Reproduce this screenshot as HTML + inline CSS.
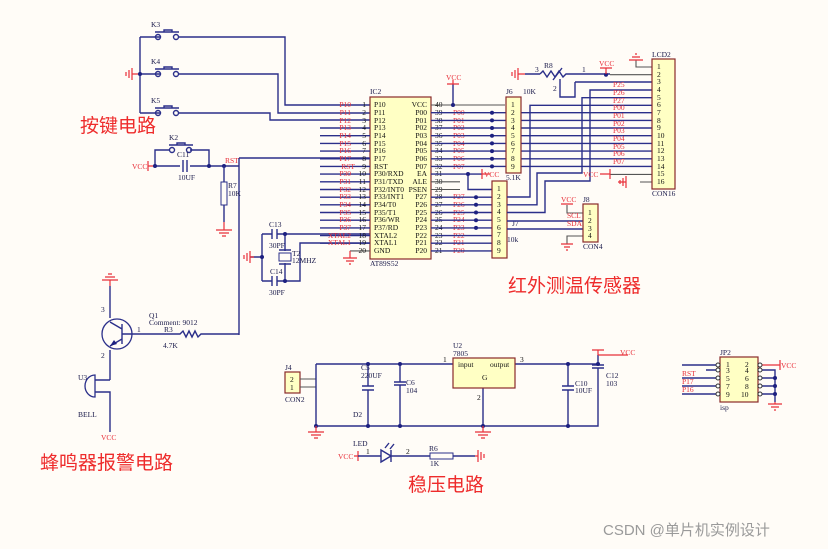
<!DOCTYPE html>
<html><head><meta charset="utf-8"><style>
html,body{margin:0;padding:0;background:#fffcf7;}
svg{display:block}
text{font-family:"Liberation Serif",serif;}
.s{font-size:7.5px;fill:#1a1a4a}
.r{font-size:7.5px;fill:#e8303a}
.k{font-size:7.5px;fill:#111}
.cn{font-family:"Liberation Sans","Noto Sans CJK SC",sans-serif;font-size:19px;fill:#ee2b2b}
.w{stroke:#2b2f8a;stroke-width:1.4;fill:none}
.g{stroke:#555;stroke-width:1.1;fill:none}
.rd{stroke:#e8303a;stroke-width:1.2;fill:none}
.bx{fill:#ffffc4;stroke:#8a2a2a;stroke-width:1.2}
.d{fill:#1d2080}
.wm{font-family:"Liberation Sans","Noto Sans CJK SC",sans-serif;font-size:15px;fill:#9a9a9a}
</style></head><body>
<svg width="828" height="549" viewBox="0 0 828 549" xmlns="http://www.w3.org/2000/svg">
<!-- keys -->
<path class="w" d="M140 37V113M140 37H160M140 74H160M140 113H160"/>
<path class="rd" d="M140 74H132M132 68V80M129 70V78M126 72V76"/>
<circle cx="140" cy="74" r="2" class="d"/>
<g class="w">
<circle cx="158" cy="37" r="2.5"/><circle cx="176" cy="37" r="2.5"/><path d="M155 32H179M164 32V30H172V32"/>
<circle cx="158" cy="74" r="2.5"/><circle cx="176" cy="74" r="2.5"/><path d="M155 69H179M164 69V67H172V69"/>
<circle cx="158" cy="113" r="2.5"/><circle cx="176" cy="113" r="2.5"/><path d="M155 108H179M164 108V106H172V108"/>
<path d="M179 37H285V105H370M179 74H278V113H370M179 113H270V120H370"/>
</g>
<text x="151" y="27" class="s">K3</text><text x="151" y="64" class="s">K4</text><text x="151" y="103" class="s">K5</text>
<text x="80" y="132" class="cn">按键电路</text>
<!-- reset -->
<path class="w" d="M155 166H180M190 166H224M155 166V150H170M190 150H209V166M224 166H239M239 158V335M239 158H370"/>
<g class="w"><circle cx="172" cy="150" r="2.5"/><circle cx="189" cy="150" r="2.5"/><path d="M169 145H193M177 145V143H185V145"/><path d="M183 160V172M187 160V172"/></g>
<text x="169" y="140" class="s">K2</text><text x="177" y="157" class="s">C11</text><text x="178" y="180" class="s">10UF</text>
<path class="rd" d="M148 166H155M148 161V171"/><text x="132" y="169" class="r">VCC</text>
<circle cx="155" cy="166" r="2" class="d"/><circle cx="209" cy="166" r="2" class="d"/><circle cx="224" cy="166" r="2" class="d"/>
<text x="225" y="163" class="r">RST</text>
<path class="w" d="M224 166V182M224 205V222"/><rect x="221" y="182" width="6" height="23" fill="none" stroke="#2b2f8a"/>
<text x="228" y="188" class="s">R7</text><text x="228" y="196" class="s">10K</text>
<path class="rd" d="M224 222V230M216 230H232M219 233H229M222 236H226"/>
<!-- crystal -->
<path class="w" d="M262 234V281M262 234H272M277 234H370M262 281H272M277 281H300V243H370M285 234V251M285 263V281M250 257H262"/>
<path class="w" d="M272 229V239M277 229V239M272 276V286M277 276V286"/>
<rect x="279" y="253" width="12" height="8" fill="none" stroke="#2b2f8a"/><path class="w" d="M279 250H291M279 264H291"/>
<path class="rd" d="M250 257H254M250 251V263M247 253V261M244 255V259"/>
<circle cx="262" cy="257" r="2" class="d"/><circle cx="285" cy="234" r="2" class="d"/><circle cx="285" cy="281" r="2" class="d"/>
<text x="269" y="227" class="s">C13</text><text x="269" y="248" class="s">30PF</text><text x="292" y="256" class="s">T2</text><text x="292" y="263" class="s">12MHZ</text>
<text x="270" y="274" class="s">C14</text><text x="269" y="295" class="s">30PF</text>
<!-- IC2 -->
<rect x="370" y="97" width="61" height="162" class="bx"/>
<text x="370" y="94" class="s">IC2</text><text x="370" y="266" class="s">AT89S52</text>
<g class="w">
<path d="M320 128H370M320 135.7H370M320 143.4H370M320 151.1H370M320 158.8H370M320 166.4H370M320 174.1H370M320 181.8H370M320 189.5H370M320 197.2H370M320 204.8H370M320 212.5H370M320 220.2H370M320 227.9H370M320 235.6H370M320 243.2H370"/>
</g>
<path class="g" d="M350 250.9H370"/>
<path class="rd" d="M350 250.9V258M343 258H357M346 261H354M349 264H351"/>
<g class="r" text-anchor="end">
<text x="351" y="107">P10</text><text x="351" y="115">P11</text><text x="351" y="123">P12</text><text x="351" y="130">P13</text><text x="351" y="138">P14</text><text x="351" y="146">P15</text><text x="351" y="153">P16</text><text x="351" y="161">P17</text><text x="355" y="169">RST</text><text x="351" y="176">P30</text><text x="351" y="184">P31</text><text x="351" y="192">P32</text><text x="351" y="199">P33</text><text x="351" y="207">P34</text><text x="351" y="215">P35</text><text x="351" y="222">P36</text><text x="351" y="230">P37</text><text x="351" y="238">XTAL2</text><text x="351" y="245">XTAL1</text>
</g>
<g class="k" text-anchor="end">
<text x="366" y="107">1</text><text x="366" y="115">2</text><text x="366" y="123">3</text><text x="366" y="130">4</text><text x="366" y="138">5</text><text x="366" y="146">6</text><text x="366" y="153">7</text><text x="366" y="161">8</text><text x="366" y="169">9</text><text x="366" y="176">10</text><text x="366" y="184">11</text><text x="366" y="192">12</text><text x="366" y="199">13</text><text x="366" y="207">14</text><text x="366" y="215">15</text><text x="366" y="222">16</text><text x="366" y="230">17</text><text x="366" y="238">18</text><text x="366" y="245">19</text><text x="366" y="253">20</text>
</g>
<g class="k">
<text x="374" y="107">P10</text><text x="374" y="115">P11</text><text x="374" y="123">P12</text><text x="374" y="130">P13</text><text x="374" y="138">P14</text><text x="374" y="146">P15</text><text x="374" y="153">P16</text><text x="374" y="161">P17</text><text x="374" y="169">RST</text><text x="374" y="176">P30/RXD</text><text x="374" y="184">P31/TXD</text><text x="374" y="192">P32/INT0</text><text x="374" y="199">P33/INT1</text><text x="374" y="207">P34/T0</text><text x="374" y="215">P35/T1</text><text x="374" y="222">P36/WR</text><text x="374" y="230">P37/RD</text><text x="374" y="238">XTAL2</text><text x="374" y="245">XTAL1</text><text x="374" y="253">GND</text>
</g>
<g class="k" text-anchor="end">
<text x="427" y="107">VCC</text><text x="427" y="115">P00</text><text x="427" y="123">P01</text><text x="427" y="130">P02</text><text x="427" y="138">P03</text><text x="427" y="146">P04</text><text x="427" y="153">P05</text><text x="427" y="161">P06</text><text x="427" y="169">P07</text><text x="427" y="176">EA</text><text x="427" y="184">ALE</text><text x="427" y="192">PSEN</text><text x="427" y="199">P27</text><text x="427" y="207">P26</text><text x="427" y="215">P25</text><text x="427" y="222">P24</text><text x="427" y="230">P23</text><text x="427" y="238">P22</text><text x="427" y="245">P21</text><text x="427" y="253">P20</text>
</g>
<g class="k">
<text x="435" y="107">40</text><text x="435" y="115">39</text><text x="435" y="123">38</text><text x="435" y="130">37</text><text x="435" y="138">36</text><text x="435" y="146">35</text><text x="435" y="153">34</text><text x="435" y="161">33</text><text x="435" y="169">32</text><text x="435" y="176">31</text><text x="435" y="184">30</text><text x="435" y="192">29</text><text x="435" y="199">28</text><text x="435" y="207">27</text><text x="435" y="215">26</text><text x="435" y="222">25</text><text x="435" y="230">24</text><text x="435" y="238">23</text><text x="435" y="245">22</text><text x="435" y="253">21</text>
</g>
<g class="r">
<text x="453" y="115">P00</text><text x="453" y="123">P01</text><text x="453" y="130">P02</text><text x="453" y="138">P03</text><text x="453" y="146">P04</text><text x="453" y="153">P05</text><text x="453" y="161">P06</text><text x="453" y="169">P07</text>
<text x="453" y="199">P27</text><text x="453" y="207">P26</text><text x="453" y="215">P25</text><text x="453" y="222">P24</text><text x="453" y="230">P23</text><text x="453" y="238">P22</text><text x="453" y="245">P21</text><text x="453" y="253">P20</text>
</g>
<!-- right side wires -->
<path class="g" d="M431 105H505M431 181.8H460M431 189.5H460"/>
<path class="w" d="M453 105V84"/><path class="rd" d="M447 84H459M453 84V80"/><text x="446" y="80" class="r">VCC</text>
<circle cx="453" cy="105" r="2" class="d"/>
<g class="w">
<path d="M431 112.7H652M431 120.4H652M431 128H652M431 135.7H652M431 143.4H652M431 151.1H652M431 158.8H652M431 166.4H652"/>
<path d="M431 197.2H492M431 204.8H492M431 212.5H492M431 220.2H492M431 227.9H492M431 235.6H492M431 243.2H492M431 250.9H492"/>
<path d="M431 174.1H482M468 174.1V189.5H492"/>
</g>
<path class="rd" d="M482 174H490M482 169V179"/><text x="484" y="177" class="r">VCC</text>
<circle cx="468" cy="174" r="2" class="d"/>
<g class="d">
<circle cx="492" cy="112.7" r="2"/><circle cx="492" cy="120.4" r="2"/><circle cx="492" cy="128" r="2"/><circle cx="492" cy="135.7" r="2"/><circle cx="492" cy="143.4" r="2"/><circle cx="492" cy="151.1" r="2"/><circle cx="492" cy="158.8" r="2"/><circle cx="492" cy="166.4" r="2"/>
<circle cx="476" cy="197.2" r="2"/><circle cx="476" cy="204.8" r="2"/><circle cx="476" cy="212.5" r="2"/><circle cx="476" cy="220.2" r="2"/><circle cx="476" cy="227.9" r="2"/>
</g>
<!-- J6 -->
<rect x="506" y="97" width="15" height="76" class="bx"/>
<text x="506" y="94" class="s">J6</text><text x="523" y="94" class="s">10K</text><text x="506" y="180" class="s">5.1K</text>
<g class="k" font-size="6.5"><text x="511" y="107">1</text><text x="511" y="115">2</text><text x="511" y="123">3</text><text x="511" y="130">4</text><text x="511" y="138">5</text><text x="511" y="146">6</text><text x="511" y="153">7</text><text x="511" y="161">8</text><text x="511" y="169">9</text></g>
<!-- J7 -->
<rect x="492" y="181" width="15" height="77" class="bx"/>
<text x="512" y="226" class="s">J7</text><text x="507" y="242" class="s">10k</text>
<g class="k" font-size="6.5"><text x="497" y="191">1</text><text x="497" y="199">2</text><text x="497" y="207">3</text><text x="497" y="214">4</text><text x="497" y="222">5</text><text x="497" y="230">6</text><text x="497" y="237">7</text><text x="497" y="245">8</text><text x="497" y="253">9</text></g>
<!-- LCD wires -->
<g class="w">
<path d="M507 197H530V105.3H652"/>
<path d="M507 204.8H537V173H582V97.7H652"/>
<path d="M507 212.5H545V181H590V90H652"/>
<path d="M575 82H652M575 82V97H560V90"/>
<path d="M507 221H583M507 229H583"/>
</g>
<path class="g" d="M652 67H636V60M610 74.7H652M610 174.4H652M640 182H652M583 213H567V205M583 236H567V244"/>
<path class="rd" d="M629 60H643M632 57H640M635 54H637M567 204H561M567 204H573M618 182H626M626 176V188M623 178V186M620 180V184M561 244H573M564 247H570M566 250H568"/>
<path class="rd" d="M600 174H610M610 169V179"/><text x="583" y="177" class="r">VCC</text>
<text x="561" y="202" class="r">VCC</text>
<text x="567" y="218" class="r">SCL</text><text x="567" y="226" class="r">SDA</text>
<!-- R8 -->
<path class="rd" d="M525 74H518M518 68V80M515 70V78M512 72V76"/>
<path class="w" d="M525 74H540M540 74l3-3 4 6 4-6 4 6 4-6 4 6 3-3H610M553 80L562 68"/>
<path class="w" d="M560 90V79"/>
<text x="535" y="72" class="s">3</text><text x="544" y="68" class="s">R8</text><text x="582" y="72" class="s">1</text><text x="553" y="91" class="s">2</text>
<circle cx="606" cy="74.7" r="2" class="d"/>
<path class="rd" d="M606 74V68M600 68H612"/><text x="599" y="66" class="r">VCC</text>
<!-- LCD2 -->
<rect x="652" y="59" width="23" height="130" class="bx"/>
<text x="652" y="57" class="s">LCD2</text><text x="652" y="196" class="s">CON16</text>
<g class="k" font-size="6.5"><text x="657" y="69">1</text><text x="657" y="77">2</text><text x="657" y="84">3</text><text x="657" y="92">4</text><text x="657" y="100">5</text><text x="657" y="107">6</text><text x="657" y="115">7</text><text x="657" y="123">8</text><text x="657" y="130">9</text><text x="657" y="138">10</text><text x="657" y="146">11</text><text x="657" y="153">12</text><text x="657" y="161">13</text><text x="657" y="169">14</text><text x="657" y="176">15</text><text x="657" y="184">16</text></g>
<g class="r"><text x="613" y="87">P25</text><text x="613" y="95">P26</text><text x="613" y="103">P27</text><text x="613" y="110">P00</text><text x="613" y="118">P01</text><text x="613" y="126">P02</text><text x="613" y="133">P03</text><text x="613" y="141">P04</text><text x="613" y="149">P05</text><text x="613" y="156">P06</text><text x="613" y="164">P07</text></g>
<!-- J8 -->
<rect x="583" y="204" width="15" height="38" class="bx"/>
<text x="583" y="202" class="s">J8</text><text x="583" y="249" class="s">CON4</text>
<g class="k" font-size="6.5"><text x="588" y="215">1</text><text x="588" y="223">2</text><text x="588" y="231">3</text><text x="588" y="238">4</text></g>
<text x="508" y="292" class="cn">红外测温传感器</text>
<!-- buzzer -->
<path class="rd" d="M110 286V280M102 280H118M105 277H115M108 274H112"/>
<path class="w" d="M110 286V318M110 350V380M95 380H110M95 392H110V432"/>
<circle cx="117" cy="334" r="15" fill="none" stroke="#2b2f8a" stroke-width="1.3"/>
<path class="w" d="M122 324V344M122 334H132M110 322L122 329M122 339L110 346"/>
<path d="M110 346l4-6 3 4z" class="d"/>
<path class="w" d="M132 334H180l3-3 3 6 3-6 3 6 3-6 3 6 3-3H239"/>
<text x="137" y="332" class="s">1</text><text x="164" y="332" class="s">R3</text><text x="163" y="348" class="s">4.7K</text>
<text x="149" y="318" class="s">Q1</text><text x="149" y="325" class="s" font-size="6.5">Comment: 9012</text>
<text x="101" y="312" class="s">3</text><text x="101" y="358" class="s">2</text>
<path d="M95 375A10 11 0 0 0 95 397Z" fill="none" stroke="#2b2f8a" stroke-width="1.3"/>
<text x="78" y="380" class="s">U3</text><text x="78" y="417" class="s">BELL</text>
<text x="101" y="440" class="r">VCC</text>
<text x="40" y="469" class="cn">蜂鸣器报警电路</text>
<!-- power -->
<rect x="285" y="372" width="15" height="21" class="bx"/>
<text x="285" y="370" class="s">J4</text><text x="285" y="402" class="s">CON2</text>
<text x="290" y="382" class="k">2</text><text x="290" y="390" class="k">1</text>
<path class="g" d="M300 379H316M300 387H316"/>
<path class="w" d="M316 364V426M316 364H453M515 364H598V355M316 426H598V368M368 364V386M368 390V426M400 364V382M400 385V426M568 364V386M568 390V426M483 388V426"/>
<path class="w" d="M362 386H374M362 390H374M394 382H406M394 385H406M562 386H574M562 390H574M592 365H604M592 368H604"/>
<path class="rd" d="M598 355V350M592 350H604"/><text x="620" y="355" class="r">VCC</text><path class="rd" d="M598 355H628"/>
<g class="d"><circle cx="368" cy="364" r="2"/><circle cx="400" cy="364" r="2"/><circle cx="568" cy="364" r="2"/><circle cx="598" cy="364" r="2"/><circle cx="316" cy="426" r="2"/><circle cx="368" cy="426" r="2"/><circle cx="400" cy="426" r="2"/><circle cx="483" cy="426" r="2"/><circle cx="568" cy="426" r="2"/></g>
<path class="rd" d="M316 426V432M308 432H324M311 435H321M314 438H318M483 426V432M475 432H491M478 435H488M481 438H485"/>
<rect x="453" y="358" width="62" height="30" class="bx"/>
<text x="453" y="348" class="s">U2</text><text x="453" y="356" class="s">7805</text>
<text x="458" y="367" class="k">input</text><text x="490" y="367" class="k">output</text><text x="482" y="380" class="k">G</text>
<text x="443" y="362" class="k">1</text><text x="520" y="362" class="k">3</text><text x="477" y="400" class="k">2</text>
<text x="361" y="370" class="s">C5</text><text x="361" y="378" class="s">220UF</text><text x="406" y="385" class="s">C6</text><text x="406" y="393" class="s">104</text><text x="353" y="417" class="s">D2</text>
<text x="575" y="386" class="s">C10</text><text x="575" y="393" class="s">10UF</text><text x="606" y="378" class="s">C12</text><text x="606" y="386" class="s">103</text>
<!-- LED row -->
<path class="rd" d="M354 456H358M358 451V461"/><text x="338" y="459" class="r">VCC</text>
<path class="w" d="M358 456H381M391 456H430M453 456H475M381 450L391 456L381 462ZM391 450V462M385 448l4-5M390 449l4-5"/>
<rect x="430" y="453" width="23" height="6" fill="none" stroke="#2b2f8a"/>
<path class="rd" d="M475 456H478M478 450V462M481 452V460M484 454V458"/>
<text x="353" y="446" class="s">LED</text><text x="366" y="454" class="k">1</text><text x="406" y="454" class="k">2</text><text x="429" y="451" class="s">R6</text><text x="430" y="466" class="s">1K</text>
<text x="408" y="491" class="cn">稳压电路</text>
<!-- JP2 -->
<rect x="720" y="357" width="38" height="45" class="bx"/>
<text x="720" y="355" class="s">JP2</text><text x="720" y="410" class="s">isp</text>
<path class="w" d="M682 365H718M706 370H718M682 378H718M682 386H718M682 394H718M762 370H775V394M762 378H775M762 386H775M762 394H775V402"/>
<path class="rd" d="M762 365H780M780 360V370"/><text x="781" y="368" class="r">VCC</text>
<path class="rd" d="M775 402V404M768 404H782M771 407H779M774 410H776"/>
<g fill="#fff" stroke="#333"><circle cx="718" cy="365" r="2"/><circle cx="718" cy="370" r="2"/><circle cx="718" cy="378" r="2"/><circle cx="718" cy="386" r="2"/><circle cx="718" cy="394" r="2"/><circle cx="760" cy="365" r="2"/><circle cx="760" cy="370" r="2"/><circle cx="760" cy="378" r="2"/><circle cx="760" cy="386" r="2"/><circle cx="760" cy="394" r="2"/></g>
<g class="d"><circle cx="775" cy="378" r="2"/><circle cx="775" cy="386" r="2"/><circle cx="775" cy="394" r="2"/></g>
<g class="k" font-size="6.5"><text x="726" y="367">1</text><text x="726" y="373">3</text><text x="726" y="381">5</text><text x="726" y="389">7</text><text x="726" y="397">9</text><text x="745" y="367">2</text><text x="745" y="373">4</text><text x="745" y="381">6</text><text x="745" y="389">8</text><text x="741" y="397">10</text></g>
<g class="r"><text x="682" y="376">RST</text><text x="682" y="384">P17</text><text x="682" y="392">P16</text></g>
<text x="603" y="535" class="wm">CSDN @单片机实例设计</text>
</svg>
</body></html>
